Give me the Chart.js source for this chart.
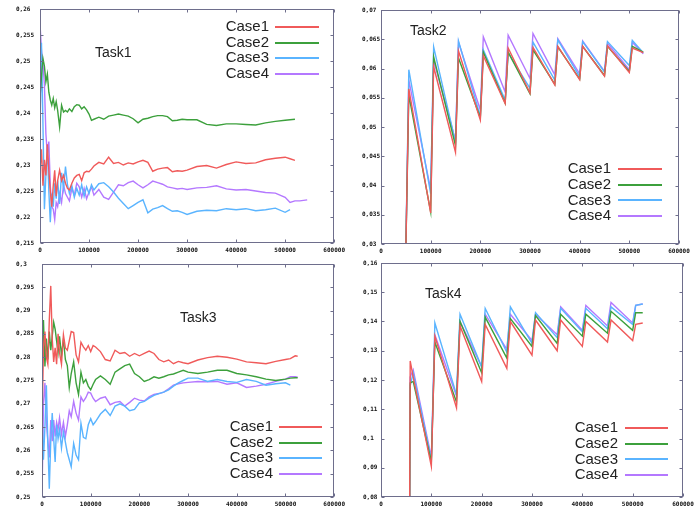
<!DOCTYPE html>
<html>
<head>
<meta charset="utf-8">
<script src="https://cdn.jsdelivr.net/npm/chart.js@4/dist/chart.umd.min.js"></script>
<style>
  body { margin: 0; background: #fff; }
  #wrap { position: relative; width: 699px; height: 510px; }
  canvas { position: absolute; }
</style>
</head>
<body>
<div id="wrap">
  <canvas id="c1" width="349" height="255" style="left:0;top:0"></canvas>
  <canvas id="c2" width="350" height="255" style="left:349px;top:0"></canvas>
  <canvas id="c3" width="349" height="255" style="left:0;top:255px"></canvas>
  <canvas id="c4" width="350" height="255" style="left:349px;top:255px"></canvas>
</div>
<script>
const caseNames = ["Case1", "Case2", "Case3", "Case4"];
const caseColors = ["#f05a5a", "#3ca03c", "#5ab4ff", "#b478ff"];

// Task1
const t1X = [0,3000,6000,9000,12000,15000,18000,21000,24000,27000,30000,33000,36000,40000,44000,48000,52000,56000,60000,65000,70000,75000,80000,85000,90000,95000,100000,105000,110000,120000,130000,140000,150000,160000,170000,180000,190000,200000,210000,220000,230000,240000,250000,260000,270000,280000,290000,300000,320000,340000,360000,380000,400000,420000,440000,460000,480000,500000,510000,520000,530000,545000];
const t1Case1 = [0.229,0.233,0.226,0.231,0.228,0.234,0.229,0.225,0.222,0.226,0.229,0.224,0.227,0.229,0.227,0.228,0.2265,0.2255,0.2252,0.2265,0.2275,0.228,0.2282,0.227,0.2285,0.2288,0.2287,0.2292,0.2298,0.2305,0.2302,0.2315,0.2303,0.2305,0.23,0.2304,0.2302,0.2306,0.2309,0.2305,0.2288,0.2292,0.2294,0.2295,0.2287,0.2289,0.2288,0.229,0.2297,0.2299,0.2294,0.2301,0.2306,0.2303,0.2304,0.231,0.2313,0.2315,0.2312,0.2309,null,null];
const t1Case2 = [0.243,0.247,0.2505,0.249,0.246,0.2475,0.244,0.2425,0.2415,0.2428,0.241,0.2422,0.2405,0.2373,0.2415,0.2402,0.2405,0.2402,0.2408,0.2403,0.2412,0.2416,0.2415,0.2408,0.2412,0.2406,0.2398,0.2386,0.2388,0.2392,0.2388,0.2394,0.2396,0.2398,0.2396,0.2394,0.2389,0.2381,0.2388,0.239,0.2393,0.2395,0.2395,0.2393,0.2385,0.2386,0.2388,0.2387,0.2387,0.2378,0.2376,0.2379,0.2379,0.2378,0.2377,0.2381,0.2384,0.2386,0.2387,0.2388,null,null];
const t1Case3 = [0.236,0.2535,0.238,0.2215,0.228,0.2335,0.225,0.219,0.2245,0.222,0.2265,0.2235,0.227,0.2225,0.2285,0.2255,0.2297,0.2262,0.2245,0.226,0.2238,0.2255,0.2242,0.2262,0.224,0.2258,0.2245,0.2262,0.2252,0.2264,0.2266,0.2258,0.2248,0.2236,0.2226,0.2216,0.2222,0.2228,0.2233,0.2208,0.2215,0.2218,0.2222,0.2216,0.2211,0.2212,0.2209,0.2205,0.2211,0.2213,0.2212,0.2216,0.2214,0.2216,0.2212,0.2214,0.2217,0.2209,0.2214,null,null,null];
const t1Case4 = [0.2572,0.252,0.2495,0.2455,0.236,0.232,0.2345,0.226,0.222,0.2215,0.2195,0.2228,0.222,0.2245,0.2228,0.2262,0.2245,0.2238,0.2231,0.2255,0.2242,0.2265,0.2258,0.2238,0.2255,0.2235,0.2248,0.2258,0.2242,0.2253,0.2238,0.2234,0.2248,0.2262,0.226,0.2266,0.2269,0.2262,0.2256,0.2262,0.2269,0.2266,0.2263,0.2258,0.2256,0.2254,0.2255,0.2253,0.2256,0.2257,0.226,0.2254,0.2252,0.2253,0.225,0.2247,0.2246,0.2238,0.2228,0.2231,0.2231,0.2233];

// Task2
const t2X = [50000,56000,100000,106000,150000,156000,200000,206000,250000,256000,300000,306000,350000,356000,400000,406000,450000,456000,500000,506000,528000];
const t2Case1 = [0.029,0.0565,0.0353,0.0603,0.0457,0.063,0.0512,0.0622,0.054,0.0635,0.0558,0.0636,0.0572,0.0638,0.0581,0.0638,0.0587,0.0639,0.0593,0.0635,0.0627];
const t2Case2 = [0.029,0.0555,0.0355,0.062,0.0468,0.0618,0.0516,0.0628,0.0541,0.0628,0.0557,0.0632,0.0573,0.0637,0.0582,0.0638,0.0588,0.0638,0.0595,0.0638,0.0628];
const t2Case3 = [0.029,0.0598,0.0386,0.0637,0.0474,0.0647,0.0518,0.0632,0.0546,0.0627,0.0566,0.0645,0.058,0.0649,0.0586,0.0646,0.0594,0.0646,0.0605,0.0648,0.0627];
const t2Case4 = [0.029,0.058,0.0393,0.0614,0.0477,0.0645,0.0529,0.0654,0.056,0.0657,0.0583,0.066,0.0589,0.0651,0.0591,0.0647,0.0595,0.0643,0.0598,0.0645,0.0625];

// Task3
const t3X = [0,3000,6000,9000,12000,15000,18000,21000,24000,27000,30000,33000,36000,40000,44000,48000,52000,56000,60000,65000,70000,75000,80000,85000,90000,95000,100000,105000,110000,120000,130000,140000,150000,160000,170000,180000,190000,200000,210000,220000,230000,240000,250000,260000,270000,280000,290000,300000,320000,340000,360000,380000,400000,420000,440000,460000,480000,500000,510000,520000,525000];
const t3Case1 = [0.265,0.282,0.2855,0.28,0.2785,0.288,0.2953,0.284,0.279,0.282,0.2785,0.285,0.281,0.2785,0.2848,0.282,0.2815,0.2835,0.2855,0.2853,0.2805,0.279,0.2832,0.2822,0.2815,0.2825,0.2812,0.2825,0.2822,0.2812,0.2795,0.2792,0.2815,0.2808,0.281,0.2802,0.2808,0.2803,0.2808,0.2813,0.2808,0.2795,0.279,0.2794,0.2786,0.2791,0.2788,0.2786,0.2794,0.2799,0.2802,0.28,0.2796,0.279,0.2788,0.2786,0.2791,0.2795,0.2797,0.2803,0.2802];
const t3Case2 = [0.275,0.288,0.278,0.284,0.2795,0.2855,0.2815,0.2845,0.2875,0.286,0.2835,0.281,0.2845,0.2805,0.2838,0.2795,0.2782,0.2735,0.2765,0.279,0.2745,0.272,0.2768,0.2745,0.2752,0.2738,0.273,0.2742,0.2752,0.276,0.2752,0.2742,0.2768,0.2775,0.2782,0.2785,0.2765,0.2758,0.2748,0.2752,0.2758,0.2755,0.2758,0.2762,0.2764,0.2768,0.2772,0.2768,0.2765,0.2768,0.2772,0.2772,0.2765,0.2762,0.2758,0.2753,0.275,0.2753,0.2755,0.2756,0.2756];
const t3Case3 = [0.268,0.258,0.265,0.274,0.2615,0.2518,0.262,0.268,0.2625,0.2575,0.2655,0.2625,0.2645,0.2605,0.264,0.2618,0.2595,0.258,0.2565,0.2615,0.259,0.258,0.2658,0.2628,0.2625,0.2655,0.2668,0.2655,0.2662,0.2678,0.2688,0.2675,0.2695,0.27,0.2695,0.2685,0.2688,0.2702,0.2705,0.2712,0.2718,0.2722,0.2725,0.273,0.2738,0.2745,0.275,0.2755,0.2755,0.2748,0.2752,0.2748,0.2746,0.2752,0.2748,0.274,0.2743,0.2745,0.274,null,null];
const t3Case4 = [0.25,0.27,0.2745,0.266,0.262,0.2585,0.2665,0.262,0.2665,0.263,0.266,0.2645,0.267,0.2635,0.266,0.263,0.2655,0.2685,0.2672,0.2705,0.268,0.2665,0.2715,0.2705,0.2713,0.2725,0.2723,0.2712,0.2705,0.2712,0.2715,0.2698,0.2703,0.2705,0.2695,0.2703,0.2712,0.2708,0.2706,0.2715,0.272,0.2722,0.2725,0.2732,0.274,0.2743,0.2745,0.2746,0.2748,0.2747,0.2748,0.2742,0.2745,0.2735,0.2738,0.2742,0.2748,0.2753,0.2758,0.2758,0.2757];

// Task4
const t4X = [57000,58000,64000,100000,107000,150000,157000,200000,207000,250000,257000,300000,307000,350000,357000,400000,407000,450000,457000,500000,506000,520000];
const t4Case1 = [0.079,0.1265,0.121,0.0905,0.135,0.1105,0.1385,0.1195,0.139,0.124,0.14,0.1285,0.1405,0.13,0.1405,0.1315,0.14,0.133,0.1405,0.1335,0.139,0.1395];
const t4Case2 = [0.079,0.119,0.1195,0.092,0.133,0.1125,0.14,0.1225,0.1415,0.1275,0.141,0.1315,0.142,0.1325,0.1425,0.135,0.1425,0.136,0.1435,0.137,0.143,0.143];
const t4Case3 = [0.079,0.118,0.1225,0.0925,0.1395,0.115,0.1425,0.1245,0.1445,0.1295,0.145,0.1325,0.143,0.1345,0.1445,0.1365,0.1445,0.1375,0.145,0.139,0.1455,0.146];
const t4Case4 = [0.079,0.121,0.1235,0.0935,0.1355,0.1145,0.14,0.1245,0.1425,0.1305,0.1425,0.1335,0.1425,0.1355,0.145,0.137,0.1455,0.1385,0.1465,0.1395,0.1455,0.146];

const xTicks = [0, 100000, 200000, 300000, 400000, 500000, 600000];

function fmtY(v) {
  return String(parseFloat(v.toFixed(4))).replace(".", ",");
}

// gnuplot look: box border, inward ticks on all sides, title and key inside
const gnuPlugin = {
  id: "gnu",
  afterDraw(chart, args, opts) {
    const ctx = chart.ctx;
    const a = chart.chartArea;
    const xs = chart.scales.x, ys = chart.scales.y;
    ctx.save();
    ctx.strokeStyle = "#6e6e8c";
    ctx.lineWidth = 1;
    const L = Math.round(a.left) + 0.5, R = Math.round(a.right) - 0.5;
    const T = Math.round(a.top) + 0.5, B = Math.round(a.bottom) - 0.5;
    ctx.strokeRect(L, T, R - L, B - T);
    ctx.beginPath();
    xs.ticks.forEach(t => {
      const px = Math.round(xs.getPixelForValue(t.value)) + 0.5;
      ctx.moveTo(px, B); ctx.lineTo(px, B - 3);
      ctx.moveTo(px, T); ctx.lineTo(px, T + 3);
    });
    ys.ticks.forEach(t => {
      const py = Math.round(ys.getPixelForValue(t.value)) + 0.5;
      ctx.moveTo(L, py); ctx.lineTo(L + 3, py);
      ctx.moveTo(R, py); ctx.lineTo(R - 3, py);
    });
    ctx.stroke();

    ctx.fillStyle = "#222";
    ctx.font = "14px 'Liberation Sans', Arial, sans-serif";
    ctx.textAlign = "left";
    ctx.textBaseline = "middle";
    ctx.fillText(opts.title, opts.titleX, opts.titleY);

    ctx.font = "15px 'Liberation Sans', Arial, sans-serif";
    ctx.textAlign = "right";
    chart.data.datasets.forEach((ds, i) => {
      const y = opts.keyY + i * opts.keyGap;
      ctx.fillStyle = "#222";
      ctx.fillText(ds.label, opts.keyText, y);
      ctx.strokeStyle = ds.borderColor;
      ctx.lineWidth = 2;
      ctx.beginPath();
      ctx.moveTo(opts.keyX1, Math.round(y));
      ctx.lineTo(opts.keyX2, Math.round(y));
      ctx.stroke();
    });
    ctx.restore();
  }
};

function makeChart(id, xVals, series, yMin, yMax, yStep, lay, key) {
  const datasets = series.map((ys, i) => ({
    label: caseNames[i],
    borderColor: caseColors[i],
    borderWidth: 1.4,
    pointRadius: 0,
    tension: 0,
    spanGaps: false,
    data: xVals.map((x, j) => ({ x: x, y: ys[j] })).filter(p => p.y !== null)
  }));
  return new Chart(document.getElementById(id).getContext("2d"), {
    type: "line",
    data: { datasets },
    plugins: [gnuPlugin],
    options: {
      responsive: false,
      animation: false,
      layout: { padding: { left: lay.labelLeft, top: lay.top, right: lay.right, bottom: 0 } },
      plugins: {
        legend: { display: false },
        tooltip: { enabled: false },
        gnu: key
      },
      scales: {
        x: {
          type: "linear",
          min: 0, max: 600000,
          afterBuildTicks: s => { s.ticks = xTicks.map(v => ({ value: v })); },
          afterFit: s => { s.height = lay.xH; },
          grid: { display: false, drawTicks: false },
          border: { display: false },
          ticks: {
            padding: 4,
            maxRotation: 0,
            autoSkip: false,
            color: "#111",
            font: { family: "'DejaVu Sans Mono', monospace", size: 6, weight: "bold" },
            callback: v => String(v)
          }
        },
        y: {
          min: yMin, max: yMax,
          afterFit: s => { s.width = lay.yW; },
          grid: { display: false, drawTicks: false },
          border: { display: false },
          ticks: {
            stepSize: yStep,
            crossAlign: "far",
            autoSkip: false,
            color: "#111",
            font: { family: "'DejaVu Sans Mono', monospace", size: 6, weight: "bold" },
            callback: v => fmtY(v)
          }
        }
      }
    }
  });
}

window.onload = () => {
  makeChart("c1", t1X, [t1Case1, t1Case2, t1Case3, t1Case4], 0.215, 0.26, 0.005,
    { labelLeft: 16, yW: 24, top: 9, right: 11, xH: 12 },
    { title: "Task1", titleX: 95, titleY: 53, keyText: 269, keyX1: 275, keyX2: 319, keyY: 27, keyGap: 15.5 });
  makeChart("c2", t2X, [t2Case1, t2Case2, t2Case3, t2Case4], 0.03, 0.07, 0.005,
    { labelLeft: 13, yW: 19, top: 10, right: 20, xH: 11 },
    { title: "Task2", titleX: 61, titleY: 31, keyText: 262, keyX1: 269, keyX2: 313, keyY: 169, keyGap: 15.7 });
  makeChart("c3", t3X, [t3Case1, t3Case2, t3Case3, t3Case4], 0.25, 0.3, 0.005,
    { labelLeft: 16, yW: 26, top: 9, right: 10, xH: 13 },
    { title: "Task3", titleX: 180, titleY: 63, keyText: 273, keyX1: 279, keyX2: 322, keyY: 172, keyGap: 15.5 });
  makeChart("c4", t4X, [t4Case1, t4Case2, t4Case3, t4Case4], 0.08, 0.16, 0.01,
    { labelLeft: 14, yW: 18, top: 8, right: 16, xH: 13 },
    { title: "Task4", titleX: 76, titleY: 39, keyText: 269, keyX1: 276, keyX2: 319, keyY: 173, keyGap: 15.7 });
};
</script>
</body>
</html>
